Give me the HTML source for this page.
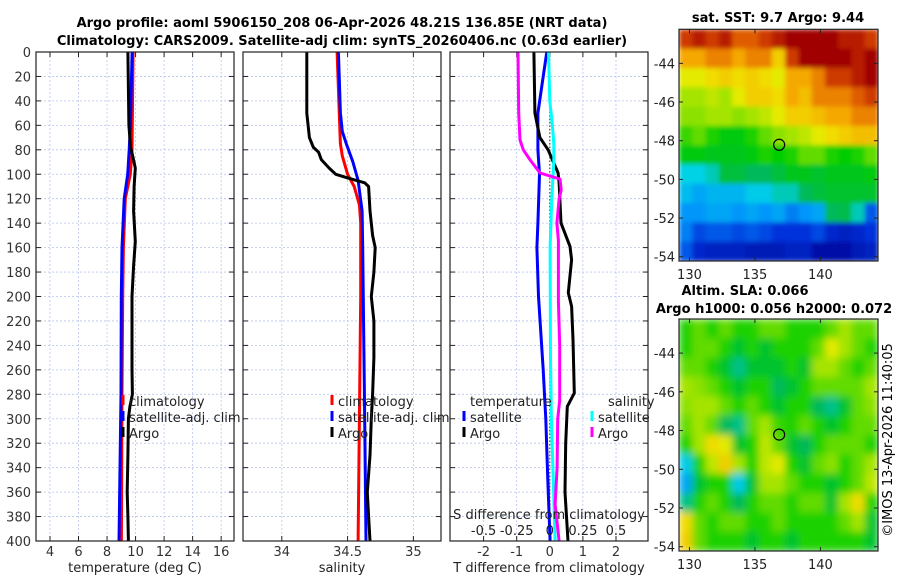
<!DOCTYPE html>
<html><head><meta charset="utf-8"><style>
body{margin:0;background:#fff;}
svg{display:block;font-family:"DejaVu Sans","Liberation Sans",sans-serif;}
</style></head><body>
<svg id="s" width="900" height="580" viewBox="0 0 900 580">
<defs>
<filter id="blurS" x="0" y="0" width="1" height="1"><feGaussianBlur stdDeviation="2.5" edgeMode="duplicate"/></filter>
<filter id="blurA" x="0" y="0" width="1" height="1"><feGaussianBlur stdDeviation="4" edgeMode="duplicate"/></filter>
<clipPath id="clipS"><rect x="679" y="29.3" width="199" height="231.7"/></clipPath>
<clipPath id="clipA"><rect x="679" y="319" width="199" height="232"/></clipPath>
</defs>
<text x="342" y="27" font-size="13" font-weight="bold" text-anchor="middle">Argo profile: aoml 5906150_208 06-Apr-2026 48.21S 136.85E (NRT data)</text>
<text x="342" y="45" font-size="13" font-weight="bold" text-anchor="middle">Climatology: CARS2009. Satellite-adj clim: synTS_20260406.nc (0.63d earlier)</text>
<text x="778" y="22" font-size="13" font-weight="bold" text-anchor="middle">sat. SST: 9.7 Argo: 9.44</text>
<text x="745" y="295" font-size="13" font-weight="bold" text-anchor="middle">Altim. SLA: 0.066</text>
<text x="774" y="313" font-size="13" font-weight="bold" text-anchor="middle">Argo h1000: 0.056 h2000: 0.072</text>
<text transform="translate(892,440) rotate(-90)" font-size="13" text-anchor="middle">©IMOS 13-Apr-2026 11:40:05</text>
</svg>
<script>
const depthTicks=[0,20,40,60,80,100,120,140,160,180,200,220,240,260,280,300,320,340,360,380,400];
const tTicks=[4,6,8,10,12,14,16];
const sTicks=[34,34.5,35];
const dTicks=[-2,-1,0,1,2];
const sdTickLabels=["-0.5","-0.25","0","0.25","0.5"];
const sdTickVals=[-0.5,-0.25,0,0.25,0.5];

const climTdep=[0,80,100,120,160,200,280,400];
const climT=[9.83,9.75,9.63,9.28,9.15,9.1,9.05,9.01];
const satTdep=[0,60,80,100,120,160,200,280,400];
const satT=[9.76,9.64,9.55,9.45,9.2,9.05,9.0,8.98,8.84];
const argoTdep=[0,60,78,85,95,110,130,155,175,200,260,280,290,300,330,360,380,400];
const argoT=[9.46,9.53,9.65,9.8,9.98,9.9,9.86,9.98,9.86,9.75,9.75,9.78,9.6,9.5,9.46,9.41,9.46,9.5];

const climSdep=[0,60,75,85,100,110,125,140,200,300,400];
const climS=[34.42,34.44,34.445,34.46,34.5,34.55,34.59,34.6,34.6,34.59,34.58];
const satSdep=[0,50,65,75,90,105,130,160,300,400];
const satS=[34.43,34.445,34.46,34.49,34.54,34.58,34.61,34.615,34.63,34.64];
const argoSdep=[0,50,60,70,78,82,88,95,100,103,107,110,130,150,160,180,200,220,250,280,300,330,360,380,400];
const argoS=[34.19,34.19,34.2,34.21,34.24,34.28,34.3,34.36,34.41,34.5,34.63,34.66,34.67,34.69,34.71,34.7,34.68,34.7,34.7,34.69,34.68,34.67,34.65,34.66,34.67];

const satDTdep=[0,20,50,80,100,140,160,200,260,300,350,400];
const satDT=[-0.09,-0.2,-0.36,-0.36,-0.31,-0.36,-0.39,-0.34,-0.2,-0.12,-0.06,0.01];
const argoDTdep=[0,50,70,80,99,107,140,159,170,197,208,235,279,290,320,360,400];
const argoDT=[-0.48,-0.45,-0.3,-0.05,0.25,0.28,0.34,0.61,0.66,0.56,0.66,0.7,0.74,0.53,0.48,0.46,0.55];
const satDSdep=[0,40,60,75,90,100,120,160,250,300,400];
const satDS=[-0.01,0,0.02,0.03,0.03,0.025,0.015,0.002,0.005,0.012,0.04];
const argoDSdep=[0,50,72,80,88,99,104,113,120,140,154,204,240,285,300,340,370,400];
const argoDS=[-0.24,-0.235,-0.225,-0.2,-0.15,-0.074,0.077,0.086,0.07,0.054,0.065,0.065,0.075,0.075,0.06,0.055,0.04,0.07];

const mapLonTicks=[130,135,140];
const mapLatTicks=[-44,-46,-48,-50,-52,-54];
const sstGrid=[
[0.9,0.95,0.9,0.95,0.85,0.85,0.9,0.95,1,1,1,1,0.95,0.95,0.9],
[0.75,0.75,0.8,0.8,0.75,0.8,0.8,0.7,0.9,1,1,1,1,0.95,1],
[0.65,0.65,0.68,0.7,0.68,0.7,0.68,0.65,0.75,0.75,0.8,0.9,0.9,0.95,1],
[0.6,0.6,0.62,0.6,0.65,0.7,0.7,0.68,0.75,0.72,0.8,0.8,0.8,0.85,0.9],
[0.58,0.58,0.6,0.6,0.58,0.6,0.62,0.65,0.7,0.7,0.72,0.75,0.75,0.8,0.8],
[0.52,0.55,0.5,0.47,0.47,0.5,0.55,0.58,0.6,0.62,0.65,0.68,0.7,0.72,0.72],
[0.47,0.47,0.46,0.46,0.46,0.47,0.5,0.48,0.5,0.55,0.55,0.5,0.48,0.5,0.55],
[0.36,0.36,0.38,0.44,0.44,0.42,0.42,0.44,0.46,0.46,0.45,0.46,0.46,0.46,0.47],
[0.33,0.3,0.32,0.32,0.32,0.35,0.35,0.38,0.38,0.42,0.44,0.45,0.45,0.45,0.45],
[0.28,0.28,0.3,0.3,0.28,0.3,0.28,0.3,0.25,0.28,0.3,0.42,0.43,0.38,0.2],
[0.25,0.18,0.2,0.2,0.18,0.2,0.18,0.15,0.15,0.15,0.18,0.12,0.1,0.12,0.15],
[0.2,0.12,0.1,0.1,0.1,0.08,0.08,0.08,0.1,0.1,0.05,0.05,0.05,0.08,0.1]];
const slaGrid=[
[.5,.55,.5,.55,.5,.5,.55,.55,.5,.5,.5,.55,.6,.55,.55],
[.5,.55,.55,.5,.45,.5,.45,.5,.5,.5,.55,.65,.6,.55,.5],
[.55,.55,.5,.45,.4,.45,.45,.45,.5,.45,.6,.6,.55,.5,.55],
[.6,.58,.55,.5,.45,.5,.5,.42,.45,.5,.55,.55,.55,.55,.6],
[.58,.6,.6,.55,.5,.55,.5,.45,.5,.5,.42,.4,.45,.55,.58],
[.55,.6,.55,.42,.4,.55,.6,.52,.5,.55,.5,.45,.5,.55,.55],
[.5,.6,.68,.65,.45,.5,.62,.55,.45,.42,.5,.55,.55,.55,.5],
[.35,.5,.62,.7,.6,.5,.62,.65,.5,.45,.55,.58,.5,.55,.6],
[.3,.45,.5,.5,.35,.45,.6,.6,.55,.5,.5,.45,.5,.55,.62],
[.4,.5,.55,.5,.42,.5,.55,.55,.5,.55,.55,.45,.6,.68,.5],
[.68,.55,.5,.55,.55,.5,.5,.55,.5,.5,.5,.5,.55,.6,.45],
[.7,.55,.5,.5,.5,.45,.5,.5,.45,.5,.5,.5,.5,.5,.45]];
const argoLon=136.85, argoLat=-48.21;

const S=document.getElementById('s');
const NS='http://www.w3.org/2000/svg';
function mk(tag,at,parent){const e=document.createElementNS(NS,tag);for(const k in at)e.setAttribute(k,at[k]);(parent||S).appendChild(e);return e;}
const top0=52,bot0=541;
const yD=d=>top0+(d/400)*(bot0-top0);
function lin(d0,d1,r0,r1){return v=>r0+(v-d0)/(d1-d0)*(r1-r0);}

function panel(x0,x1,xs,ticks,tickLbl,name,showY){
  const g=mk('g',{});
  
  
  ticks.forEach(t=>{const l=mk('line',{x1:xs(t),x2:xs(t),y1:top0,y2:bot0,stroke:'#b8c4ee','stroke-width':0.8,'stroke-dasharray':'2,2'},g);
    
    });
  depthTicks.forEach(d=>{if(d>0&&d<400){const l=mk('line',{x1:x0,x2:x1,y1:yD(d),y2:yD(d),stroke:'#b8c4ee','stroke-width':0.8,'stroke-dasharray':'2,2'},g);
    
    }
    mk('line',{x1:x0,x2:x0+5,y1:yD(d),y2:yD(d),stroke:'#222'},g);
    mk('line',{x1:x1-5,x2:x1,y1:yD(d),y2:yD(d),stroke:'#222'},g);
    if(showY){const t=mk('text',{x:x0-5,y:yD(d)+5,'font-size':13,'text-anchor':'end',fill:'#333'},g);t.textContent=d;
      
      }
  });
  ticks.forEach((t,i)=>{mk('line',{x1:xs(t),x2:xs(t),y1:bot0-5,y2:bot0,stroke:'#222'},g);mk('line',{x1:xs(t),x2:xs(t),y1:top0,y2:top0+5,stroke:'#222'},g);
    if(tickLbl){const tx=mk('text',{x:xs(t),y:bot0+15,'font-size':13,'text-anchor':'middle',fill:'#333'},g);tx.textContent=tickLbl[i];
      
      }});
  return g;
}
function frame(x0,x1,g){const r=mk('rect',{x:x0,y:top0,width:x1-x0,height:bot0-top0,fill:'none',stroke:'#222','stroke-width':1.2},g);
  
  }
function line(xs,vals,deps,color,name,g){
  const d=vals.map((v,i)=>(i?'L':'M')+xs(v).toFixed(1)+','+yD(deps[i]).toFixed(1)).join('');
  const p=mk('path',{d:d,fill:'none',stroke:color,'stroke-width':3,'stroke-linejoin':'round'},g);
  
  
}
function txt(x,y,s,g,name,anchor,size){const t=mk('text',{x:x,y:y,'font-size':size||13,'text-anchor':anchor||'start',fill:'#222'},g);t.textContent=s;
  
  return t;}
function legMark(x,y,c,g){const l=mk('line',{x1:x,x2:x,y1:y-11,y2:y-1,stroke:c,'stroke-width':3},g);
  
  }

// Panel 1
const xT=lin(3.02,16.9,36,234);
const g1=panel(36,234,xT,tTicks,tTicks.map(String),'temperature-panel',true);
line(xT,climT,climTdep,'#f00','climatology-temperature-line',g1);
line(xT,satT,satTdep,'#00f','satellite-temperature-line',g1);
line(xT,argoT,argoTdep,'#000','argo-temperature-line',g1);
frame(36,234,g1);
txt(135,572,'temperature (deg C)',g1,'x-axis-title','middle');
[['climatology','#f00'],['satellite-adj. clim','#00f'],['Argo','#000']].forEach((e,i)=>{legMark(123,406+i*16,e[1],g1);txt(129,406+i*16,e[0],g1,'legend-entry');});

// Panel 2
const xS=lin(33.705,35.21,243,441);
const g2=panel(243,441,xS,sTicks,['34','34.5','35'],'salinity-panel',false);
line(xS,climS,climSdep,'#f00','climatology-salinity-line',g2);
line(xS,satS,satSdep,'#00f','satellite-salinity-line',g2);
line(xS,argoS,argoSdep,'#000','argo-salinity-line',g2);
frame(243,441,g2);
txt(342,572,'salinity',g2,'x-axis-title','middle');
[['climatology','#f00'],['satellite-adj. clim','#00f'],['Argo','#000']].forEach((e,i)=>{legMark(332,406+i*16,e[1],g2);txt(338,406+i*16,e[0],g2,'legend-entry');});

// Panel 3
const xD=lin(-3.015,2.967,450,648);
const xSD=v=>xD(v*4);
const g3=panel(450,648,xD,dTicks,dTicks.map(String),'difference-panel',false);
const zl=mk('line',{x1:xD(0),x2:xD(0),y1:top0,y2:bot0,stroke:'#2a6a2a','stroke-width':1.2,'stroke-dasharray':'1.5,2'},g3);


line(xD,satDT,satDTdep,'#00f','satellite-t-diff-line',g3);
line(xD,argoDT,argoDTdep,'#000','argo-t-diff-line',g3);
line(xSD,satDS,satDSdep,'#0ff','satellite-s-diff-line',g3);
line(xSD,argoDS,argoDSdep,'#f0f','argo-s-diff-line',g3);
frame(450,648,g3);
txt(549,572,'T difference from climatology',g3,'x-axis-title','middle');
txt(470,406,'temperature',g3,'legend-heading');
legMark(464,422,'#00f',g3);txt(470,422,'satellite',g3,'legend-entry');
legMark(464,438,'#000',g3);txt(470,438,'Argo',g3,'legend-entry');
txt(608,406,'salinity',g3,'legend-heading');
legMark(592,422,'#0ff',g3);txt(598,422,'satellite',g3,'legend-entry');
legMark(592,438,'#f0f',g3);txt(598,438,'Argo',g3,'legend-entry');
txt(549,519,'S difference from climatology',g3,'s-axis-title','middle');
sdTickVals.forEach((v,i)=>txt(xSD(v),535,sdTickLabels[i],g3,'s-tick-label','middle'));

// Maps
const cmapStops=[[0,[0,0,140]],[0.15,[0,50,220]],[0.28,[0,150,250]],[0.36,[0,210,230]],[0.42,[0,185,90]],[0.48,[0,205,0]],[0.58,[140,225,0]],[0.66,[240,235,0]],[0.76,[245,160,0]],[0.88,[215,70,0]],[1,[160,0,0]]];
function cmap(v){v=Math.max(0,Math.min(1,v));
  for(let i=1;i<cmapStops.length;i++){const a=cmapStops[i-1],b=cmapStops[i];
    if(v<=b[0]){const f=(v-a[0])/(b[0]-a[0]);return 'rgb('+a[1].map((c,k)=>Math.round(c+(b[1][k]-c)*f)).join(',')+')';}}
  return 'rgb(160,0,0)';}
function map(y0,y1,grid,name,filt,clip){
  const x0=679,x1=878;
  const xl=lin(129.2,144.4,x0,x1), yl=lin(-42.24,-54.22,y0,y1);
  const g=mk('g',{});
  
  
  const gc=mk('g',{'clip-path':'url(#'+clip+')'},g);
  const gi=mk('g',{filter:'url(#'+filt+')'},gc);
  const rows=grid.length, cols=grid[0].length;
  const cw=(x1-x0)/cols, ch=(y1-y0)/rows;
  grid.forEach((row,r)=>row.forEach((v,c)=>{const rc=mk('rect',{x:(x0+c*cw).toFixed(2),y:(y0+r*ch).toFixed(2),width:(cw+0.6).toFixed(2),height:(ch+0.6).toFixed(2),fill:cmap(v)},gi);
    
    }));
  const fr=mk('rect',{x:x0,y:y0,width:x1-x0,height:y1-y0,fill:'none',stroke:'#222','stroke-width':1.2},g);
  
  
  mapLatTicks.forEach(t=>{mk('line',{x1:x0,x2:x0+4,y1:yl(t),y2:yl(t),stroke:'#222'},g);mk('line',{x1:x1-4,x2:x1,y1:yl(t),y2:yl(t),stroke:'#222'},g);
    txt(x0-4,yl(t)+5,String(t),g,'lat-tick-label','end');});
  mapLonTicks.forEach(t=>{mk('line',{x1:xl(t),x2:xl(t),y1:y1-4,y2:y1,stroke:'#222'},g);mk('line',{x1:xl(t),x2:xl(t),y1:y0,y2:y0+4,stroke:'#222'},g);
    txt(xl(t),y1+18,String(t),g,'lon-tick-label','middle');});
  const c=mk('circle',{cx:xl(argoLon),cy:yl(argoLat),r:5.5,fill:'none',stroke:'#000','stroke-width':1.2},g);
  
  
}
map(29.3,261,sstGrid,'sst-map','blurS','clipS');
map(319,551,slaGrid,'sla-map','blurA','clipA');
</script>
</body></html>
